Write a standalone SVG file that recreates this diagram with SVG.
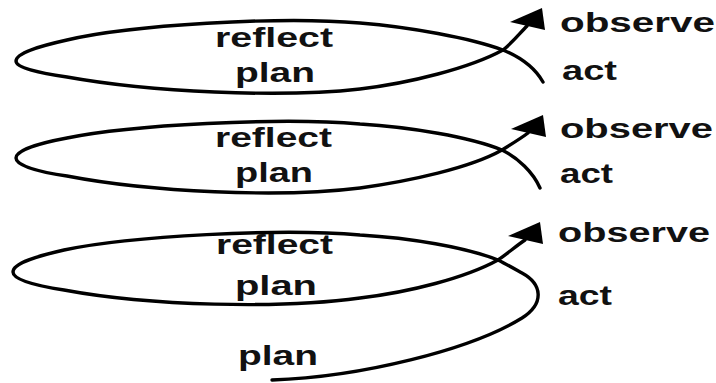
<svg xmlns="http://www.w3.org/2000/svg" width="716" height="383" viewBox="0 0 716 383">
<style>
.c{fill:none;stroke:#000;stroke-width:3.4;stroke-linecap:round;stroke-linejoin:round}
.t{font-family:"Liberation Sans",Arial,sans-serif;font-weight:bold;font-size:27px;fill:#111}
</style>
<defs>
<marker id="ah" markerUnits="userSpaceOnUse" orient="0" viewBox="-25 -25 50 50" refX="0" refY="0" markerWidth="50" markerHeight="50">
<polygon points="-17,-4 15,-18 18,4" fill="#000"/>
</marker>
</defs>
<rect width="716" height="383" fill="#fff"/>
<g id="connectors">
<path id="loop1" class="c" marker-end="url(#ah)" d="M 543,82 C 535,68 520,57 503,50 C 470,38 410,27 360,23 C 280,16 130,25 67,40 C 40,46 16,53 16,61 C 16,68 40,73 67,77 C 150,92 280,98 360,89 C 410,83 470,68 503,50 C 512,43 520,33 527,26"/>
<path id="loop2" class="c" marker-end="url(#ah)" d="M 540,188 C 533,172 518,158 502,150 C 470,137 410,127 360,124 C 280,117 130,125 67,138 C 40,143 16,150 16,158 C 16,166 40,172 67,176 C 150,192 280,198 360,188 C 410,181 470,168 502,150 C 510,145 520,139 528,133"/>
<path id="loop3" class="c" marker-end="url(#ah)" d="M 272,380 C 360,377 470,350 522,318 C 545,303 542,284 522,273 C 513,268 506,264 498,260 C 465,247 410,238 360,235 C 280,228 130,236 64,250 C 38,256 13,263 13,272 C 13,280 38,286 64,290 C 150,306 280,309 360,298 C 410,292 465,278 498,260 C 507,254 516,246 525,240"/>
</g>
<g id="reflect1"><text class="t" x="215" y="47" textLength="118" lengthAdjust="spacingAndGlyphs">reflect</text></g>
<g id="plan1"><text class="t" x="235" y="82" textLength="80" lengthAdjust="spacingAndGlyphs">plan</text></g>
<g id="observe1"><text class="t" x="560" y="32" textLength="155" lengthAdjust="spacingAndGlyphs">observe</text></g>
<g id="act1"><text class="t" x="562" y="80" textLength="55" lengthAdjust="spacingAndGlyphs">act</text></g>
<g id="reflect2"><text class="t" x="215" y="147" textLength="117" lengthAdjust="spacingAndGlyphs">reflect</text></g>
<g id="plan2"><text class="t" x="235" y="182" textLength="78" lengthAdjust="spacingAndGlyphs">plan</text></g>
<g id="observe2"><text class="t" x="560" y="138" textLength="153" lengthAdjust="spacingAndGlyphs">observe</text></g>
<g id="act2"><text class="t" x="560" y="183" textLength="53" lengthAdjust="spacingAndGlyphs">act</text></g>
<g id="reflect3"><text class="t" x="216" y="254" textLength="117" lengthAdjust="spacingAndGlyphs">reflect</text></g>
<g id="plan3"><text class="t" x="235" y="295" textLength="82" lengthAdjust="spacingAndGlyphs">plan</text></g>
<g id="observe3"><text class="t" x="558" y="242" textLength="152" lengthAdjust="spacingAndGlyphs">observe</text></g>
<g id="act3"><text class="t" x="558" y="305" textLength="54" lengthAdjust="spacingAndGlyphs">act</text></g>
<g id="plan4"><text class="t" x="238" y="365" textLength="80" lengthAdjust="spacingAndGlyphs">plan</text></g>
</svg>
